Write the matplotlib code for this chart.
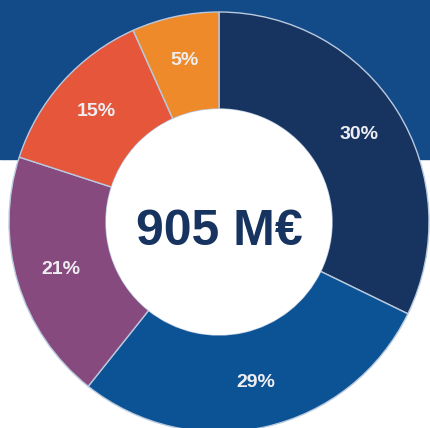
import numpy as np
import matplotlib
matplotlib.use('Agg')
import matplotlib.pyplot as plt
from matplotlib.patches import Circle

shares = [32.2, 28.5, 19.3, 13.3, 6.7]
labels = ['30%', '29%', '21%', '15%', '5%']
colors = ['#17335f', '#0c5395', '#874a7e', '#e5563b', '#ef8a2b']
total_text = '905 M€'

# --- Layout (pixel units) ---
W, H = 430, 428
cx, cy = 219, H - 222
r_out, r_in = 210, 113
band_bottom = H - 159

plt.rcParams['font.family'] = ['Liberation Sans', 'DejaVu Sans']

fig = plt.figure(figsize=(W / 100, H / 100), dpi=100)
ax = fig.add_axes([0, 0, 1, 1])

# blue header band
ax.axhspan(band_bottom, H, color='#134a88', zorder=0)

wedges, _ = ax.pie(shares, startangle=90, counterclock=False, colors=colors,
                   radius=r_out, center=(cx, cy),
                   wedgeprops=dict(width=r_out - r_in, edgecolor='#b9c9df', linewidth=1.0))

ax.add_patch(Circle((cx, cy), r_in, facecolor='white', edgecolor='none', zorder=3))

# slice labels in the middle of the ring
r_lab = 0.785 * r_out
for w, lab in zip(wedges, labels):
    ang = np.deg2rad((w.theta1 + w.theta2) / 2)
    ax.text(cx + r_lab * np.cos(ang), cy + r_lab * np.sin(ang), lab,
            ha='center', va='center', color='#eeeef2', fontsize=14,
            fontweight='bold', zorder=4)

ax.text(cx, H - 245, total_text, ha='center', va='baseline', color='#17335f',
        fontsize=36, fontweight='bold', zorder=4)

ax.set_xlim(0, W)
ax.set_ylim(0, H)
ax.set_aspect('equal')
ax.axis('off')

fig.savefig('out.png', dpi=100, facecolor='white')
